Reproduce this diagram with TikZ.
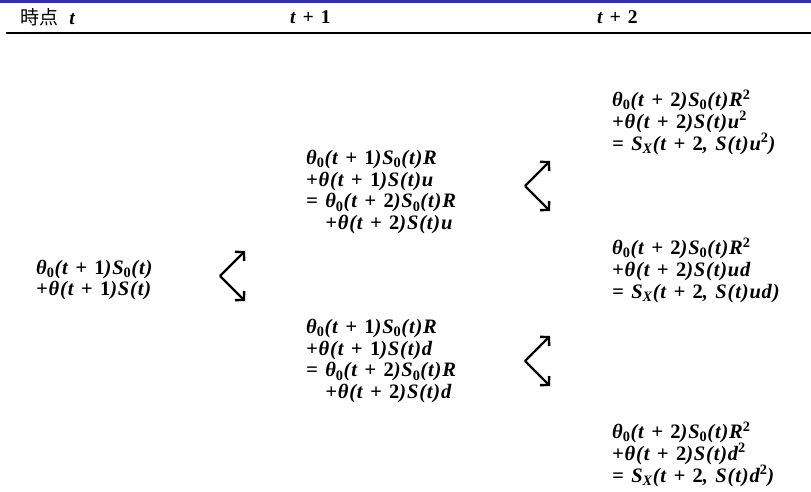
\documentclass[tikz,border=0pt]{standalone}
\usepackage{fontspec}
\setmainfont{Liberation Serif}
\newfontfamily\fml[LetterSpace=4,WordSpace=1.25]{Liberation Serif}
\newfontfamily\cjk{Noto Sans CJK JP}
\usetikzlibrary{arrows.meta}
\definecolor{topbar}{RGB}{51,51,160}
\newcommand\zr{\textsubscript{\upshape 0}}
\newcommand\sq{\textsuperscript{\upshape 2}}
\newcommand\Aone{{\upshape 1}}
\newcommand\Atwo{{\upshape 2}}
\newcommand\Xs{\textsubscript{X}}
\tikzset{
  formula/.style={anchor=west, inner sep=0pt, align=left,
    font=\fontsize{20.5}{21.8}\fml\bfseries\itshape},
  header/.style={anchor=west, inner sep=0pt,
    font=\fontsize{19.5}{21}\fml\bfseries\itshape},
  branch/.style={line width=2.4pt, -{Straight Barb[length=6pt,width=13pt,line width=2.4pt]}}
}
\begin{document}
\begin{tikzpicture}[x=1pt,y=-1pt]
\useasboundingbox (0,0) rectangle (811,491);
\fill[topbar] (0,0) rectangle (811,3);
% header
\node[header] (h0) at (20,17) {{\fontsize{19}{21}\cjk\mdseries\upshape 時点}\hspace{4pt} t};
\node[header] (h1) at (290,17) {t + \Aone};
\node[header] (h2) at (597,17) {t + \Atwo};
\coordinate (rl) at (6,33);
\coordinate (rr) at (811,33);
\draw[line width=2pt] (rl) -- (rr);
% left
\node[formula] (n0) at (36,280) {θ\zr(t + \Aone)S\zr(t)\\+θ(t + \Aone)S(t)};
% middle
\node[formula] (nu) at (306,192) {θ\zr(t + \Aone)S\zr(t)R\\+θ(t + \Aone)S(t)u\\= θ\zr(t + \Atwo)S\zr(t)R\\\phantom{= }+θ(t + \Atwo)S(t)u};
\node[formula] (nd) at (306,361) {θ\zr(t + \Aone)S\zr(t)R\\+θ(t + \Aone)S(t)d\\= θ\zr(t + \Atwo)S\zr(t)R\\\phantom{= }+θ(t + \Atwo)S(t)d};
% right
\node[formula] (nuu) at (612,122) {θ\zr(t + \Atwo)S\zr(t)R\sq\\+θ(t + \Atwo)S(t)u\sq\\= S\Xs(t + \Atwo, S(t)u\sq)};
\node[formula] (nud) at (612,270) {θ\zr(t + \Atwo)S\zr(t)R\sq\\+θ(t + \Atwo)S(t)ud\\= S\Xs(t + \Atwo, S(t)ud)};
\node[formula] (ndd) at (612,454) {θ\zr(t + \Atwo)S\zr(t)R\sq\\+θ(t + \Atwo)S(t)d\sq\\= S\Xs(t + \Atwo, S(t)d\sq)};
% branch arrows
\coordinate (v1) at (220,276);
\coordinate (v1u) at (245,251);
\coordinate (v1d) at (245,301);
\coordinate (v2) at (525,186);
\coordinate (v2u) at (550,161);
\coordinate (v2d) at (550,211);
\coordinate (v3) at (525,361);
\coordinate (v3u) at (550,336);
\coordinate (v3d) at (550,386);
\draw[branch] (v1) -- (v1u);
\draw[branch] (v1) -- (v1d);
\draw[branch] (v2) -- (v2u);
\draw[branch] (v2) -- (v2d);
\draw[branch] (v3) -- (v3u);
\draw[branch] (v3) -- (v3d);
\end{tikzpicture}
\end{document}
